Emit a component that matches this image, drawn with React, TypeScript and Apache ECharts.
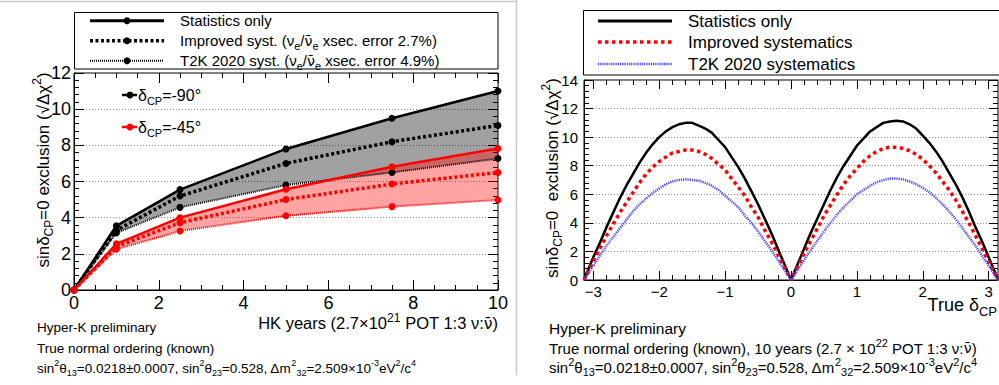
import React, { useEffect, useRef } from 'react';
import * as echarts from 'echarts';

// ---------- Left panel data (HK years) ----------
const hkYears = [0, 1, 2.5, 5, 7.5, 10];
const m90Stat = [0, 3.55, 5.55, 7.8, 9.5, 11.0];
const m90Improved = [0, 3.3, 5.2, 7.0, 8.2, 9.1];
const m90T2K = [0, 3.15, 4.57, 5.8, 6.5, 7.27];
const m45Stat = [0, 2.55, 4.0, 5.57, 6.82, 7.83];
const m45Improved = [0, 2.4, 3.72, 5.0, 5.86, 6.5];
const m45T2K = [0, 2.25, 3.26, 4.11, 4.61, 4.98];

// ---------- Right panel data (true delta CP) ----------
const deltaCP = [-3.1416, -3.1, -3.0, -2.9, -2.8, -2.7, -2.6, -2.5, -2.4, -2.3, -2.2, -2.1, -2.0, -1.9, -1.8, -1.7, -1.6, -1.5, -1.4, -1.3, -1.2, -1.1, -1.0, -0.9, -0.8, -0.7, -0.6, -0.5, -0.4, -0.3, -0.2, -0.1, 0, 0.1, 0.2, 0.3, 0.4, 0.5, 0.6, 0.7, 0.8, 0.9, 1.0, 1.1, 1.2, 1.3, 1.4, 1.5, 1.6, 1.7, 1.8, 1.9, 2.0, 2.1, 2.2, 2.3, 2.4, 2.5, 2.6, 2.7, 2.8, 2.9, 3.0, 3.1, 3.1416];
const statOnly = [0, 0.5, 1.6, 2.6, 3.7, 4.7, 5.7, 6.6, 7.4, 8.2, 8.9, 9.5, 10.0, 10.4, 10.7, 10.9, 11.0, 11.0, 10.8, 10.6, 10.3, 9.8, 9.3, 8.6, 7.9, 7.1, 6.2, 5.3, 4.3, 3.3, 2.2, 1.1, 0, 1.1, 2.2, 3.3, 4.3, 5.3, 6.3, 7.2, 8.0, 8.7, 9.4, 9.9, 10.4, 10.7, 11.0, 11.1, 11.15, 11.1, 10.9, 10.6, 10.1, 9.6, 9.0, 8.3, 7.5, 6.7, 5.8, 4.8, 3.7, 2.7, 1.6, 0.5, 0];
const improvedSyst = [0, 0.4, 1.3, 2.2, 3.1, 3.9, 4.7, 5.4, 6.1, 6.8, 7.4, 7.9, 8.3, 8.6, 8.9, 9.0, 9.1, 9.1, 9.0, 8.8, 8.5, 8.1, 7.7, 7.1, 6.5, 5.9, 5.1, 4.4, 3.5, 2.7, 1.8, 0.9, 0, 0.9, 1.85, 2.75, 3.6, 4.5, 5.25, 6.0, 6.7, 7.3, 7.8, 8.3, 8.7, 9.0, 9.2, 9.3, 9.3, 9.2, 9.05, 8.8, 8.45, 8.0, 7.5, 6.9, 6.3, 5.6, 4.8, 4.0, 3.1, 2.2, 1.3, 0.4, 0];
const t2kSyst = [0, 0.3, 1.0, 1.7, 2.4, 3.0, 3.6, 4.2, 4.8, 5.3, 5.7, 6.1, 6.4, 6.7, 6.9, 7.0, 7.05, 7.0, 6.95, 6.8, 6.6, 6.3, 5.9, 5.5, 5.1, 4.5, 4.0, 3.4, 2.75, 2.1, 1.4, 0.7, 0, 0.7, 1.4, 2.1, 2.75, 3.4, 4.0, 4.6, 5.1, 5.55, 6.0, 6.3, 6.6, 6.85, 7.0, 7.1, 7.1, 7.05, 6.9, 6.7, 6.45, 6.15, 5.75, 5.3, 4.8, 4.25, 3.65, 3.0, 2.4, 1.7, 1.0, 0.3, 0];

const rightMajorTicks = [-3, -2, -1, 0, 1, 2, 3];

const FF = '"Liberation Sans", Arial, Helvetica, sans-serif';
const FB = '"DejaVu Sans", "Liberation Sans", sans-serif';

function rich(fs: number) {
  const s = Math.round(fs * 0.7);
  return {
    n: { fontSize: fs, fontFamily: FF, color: '#000', lineHeight: Math.round(fs * 1.4) },
    nb: { fontSize: fs * 0.95, fontFamily: FB, color: '#000', lineHeight: Math.round(fs * 1.4) },
    sub: { fontSize: s, fontFamily: FF, color: '#000', lineHeight: s, verticalAlign: 'bottom' },
    sup: { fontSize: s, fontFamily: FF, color: '#000', lineHeight: s, verticalAlign: 'top' },
  };
}

function txt(text: string, x: number, y: number, fs: number, align = 'left', rotation = 0) {
  return {
    type: 'text',
    x,
    y,
    rotation,
    silent: true,
    style: {
      text,
      rich: rich(fs),
      fill: '#000',
      font: `${fs}px ${FF}`,
      textAlign: align,
      align,
      textVerticalAlign: 'middle',
      verticalAlign: 'middle',
    },
  };
}

function lineEl(x1: number, y1: number, x2: number, y2: number, stroke: string, lineWidth: number, lineDash?: number[]) {
  return {
    type: 'line',
    silent: true,
    shape: { x1, y1, x2, y2 },
    style: { stroke, lineWidth, lineDash: lineDash || null },
  };
}

function dot(cx: number, cy: number, r: number, fill: string) {
  return { type: 'circle', silent: true, shape: { cx, cy, r }, style: { fill } };
}

function band(upper: number[], lower: number[], color: string) {
  return {
    type: 'custom',
    xAxisIndex: 0,
    yAxisIndex: 0,
    silent: true,
    clip: true,
    z: 1,
    data: [[hkYears[0], upper[0]]],
    renderItem: (params: any, api: any) => {
      const pts: number[][] = [];
      for (let i = 0; i < hkYears.length; i++) pts.push(api.coord([hkYears[i], upper[i]]));
      for (let i = hkYears.length - 1; i >= 0; i--) pts.push(api.coord([hkYears[i], lower[i]]));
      return { type: 'polygon', shape: { points: pts }, style: { fill: color } };
    },
  };
}

function leftLine(name: string, vals: number[], color: string, width: number, type: any) {
  return {
    type: 'line',
    name,
    xAxisIndex: 0,
    yAxisIndex: 0,
    data: hkYears.map((x, i) => [x, vals[i]]),
    symbol: 'circle',
    symbolSize: 7,
    showSymbol: true,
    lineStyle: { color, width, type },
    itemStyle: { color },
    z: 3,
  };
}

function rightLine(name: string, vals: number[], color: string, width: number, type: any) {
  return {
    type: 'line',
    name,
    xAxisIndex: 2,
    yAxisIndex: 2,
    data: deltaCP.map((x, i) => [x, vals[i]]),
    symbol: 'none',
    showSymbol: false,
    lineStyle: { color, width, type },
    z: 3,
  };
}

const tickStyle = { color: '#000', width: 1 };

export default function App() {
  const ref = useRef<HTMLDivElement>(null);
  useEffect(() => {
    document.body.style.margin = '0';
    if (!ref.current) return;
    const chart = echarts.init(ref.current, null, { renderer: 'svg' });

    const minorR: number[] = [];
    for (let i = -15; i <= 15; i++) {
      if (i % 5 !== 0) minorR.push(Math.round(i * 20) / 100);
    }

    const minus = (v: number) => (v < 0 ? '\u2212' + Math.abs(v) : String(v));
    const axLine = { show: true, onZero: false, lineStyle: { color: '#000' } };
    const noLine = { show: false, onZero: false };

    const option: any = {
      animation: false,
      grid: [
        { left: 74, top: 73, width: 424, height: 217, show: true, borderColor: '#000', borderWidth: 1, backgroundColor: 'transparent' },
        { left: 584, top: 80, width: 414, height: 200, show: true, borderColor: '#000', borderWidth: 1, backgroundColor: 'transparent' },
      ],
      xAxis: [
        {
          gridIndex: 0, type: 'value', position: 'bottom', min: 0, max: 10, interval: 2,
          axisLine: axLine,
          axisTick: { show: true, inside: true, length: 10, lineStyle: tickStyle },
          minorTick: { show: true, splitNumber: 4, length: 5, lineStyle: tickStyle },
          axisLabel: { color: '#000', fontSize: 18, fontFamily: FF, margin: 4 },
          splitLine: { show: false },
        },
        {
          gridIndex: 0, type: 'value', position: 'top', min: 0, max: 10, interval: 2,
          axisLine: noLine,
          axisTick: { show: true, inside: true, length: 10, lineStyle: tickStyle },
          minorTick: { show: true, splitNumber: 4, length: 5, lineStyle: tickStyle },
          axisLabel: { show: false },
          splitLine: { show: false },
        },
        {
          gridIndex: 1, type: 'value', position: 'bottom', min: -3.1416, max: 3.1416,
          axisLine: axLine,
          axisTick: { show: true, inside: true, length: 9, customValues: rightMajorTicks, lineStyle: tickStyle },
          axisLabel: { color: '#000', fontSize: 15, fontFamily: FF, margin: 4, customValues: rightMajorTicks, formatter: minus },
          splitLine: { show: false },
        },
        {
          gridIndex: 1, type: 'value', position: 'bottom', min: -3.1416, max: 3.1416,
          axisLine: noLine,
          axisTick: { show: true, inside: true, length: 5, customValues: minorR, lineStyle: tickStyle },
          axisLabel: { show: false },
          splitLine: { show: false },
        },
        {
          gridIndex: 1, type: 'value', position: 'top', min: -3.1416, max: 3.1416,
          axisLine: noLine,
          axisTick: { show: true, inside: true, length: 9, customValues: rightMajorTicks, lineStyle: tickStyle },
          axisLabel: { show: false },
          splitLine: { show: false },
        },
        {
          gridIndex: 1, type: 'value', position: 'top', min: -3.1416, max: 3.1416,
          axisLine: noLine,
          axisTick: { show: true, inside: true, length: 5, customValues: minorR, lineStyle: tickStyle },
          axisLabel: { show: false },
          splitLine: { show: false },
        },
      ],
      yAxis: [
        {
          gridIndex: 0, type: 'value', position: 'left', min: 0, max: 12, interval: 2,
          axisLine: axLine,
          axisTick: { show: true, inside: true, length: 10, lineStyle: tickStyle },
          minorTick: { show: true, splitNumber: 5, length: 5, lineStyle: tickStyle },
          axisLabel: { color: '#000', fontSize: 18, fontFamily: FF, margin: 3 },
          splitLine: { show: true, lineStyle: { color: '#888', type: [1, 2], width: 1 } },
        },
        {
          gridIndex: 0, type: 'value', position: 'right', min: 0, max: 12, interval: 2,
          axisLine: noLine,
          axisTick: { show: true, inside: true, length: 10, lineStyle: tickStyle },
          minorTick: { show: true, splitNumber: 5, length: 5, lineStyle: tickStyle },
          axisLabel: { show: false },
          splitLine: { show: false },
        },
        {
          gridIndex: 1, type: 'value', position: 'left', min: 0, max: 14, interval: 2,
          axisLine: axLine,
          axisTick: { show: true, inside: true, length: 9, lineStyle: tickStyle },
          minorTick: { show: true, splitNumber: 5, length: 5, lineStyle: tickStyle },
          axisLabel: { color: '#000', fontSize: 15, fontFamily: FF, margin: 6 },
          splitLine: { show: true, lineStyle: { color: '#888', type: [1, 2], width: 1 } },
        },
        {
          gridIndex: 1, type: 'value', position: 'right', min: 0, max: 14, interval: 2,
          axisLine: noLine,
          axisTick: { show: true, inside: true, length: 9, lineStyle: tickStyle },
          minorTick: { show: true, splitNumber: 5, length: 5, lineStyle: tickStyle },
          axisLabel: { show: false },
          splitLine: { show: false },
        },
      ],
      series: [
        band(m90Stat, m90T2K, 'rgba(0,0,0,0.37)'),
        leftLine('-90 Statistics only', m90Stat, '#000', 2.5, 'solid'),
        leftLine('-90 Improved syst.', m90Improved, '#000', 3.5, [3, 2.5]),
        leftLine('-90 T2K 2020 syst.', m90T2K, '#000', 2, [1, 1]),
        band(m45Stat, m45T2K, 'rgba(255,0,0,0.36)'),
        leftLine('-45 Statistics only', m45Stat, '#ff0000', 2.5, 'solid'),
        leftLine('-45 Improved syst.', m45Improved, '#ff0000', 3.5, [3, 2.5]),
        leftLine('-45 T2K 2020 syst.', m45T2K, '#ff0000', 2, [1, 1]),
        rightLine('Statistics only', statOnly, '#000', 2.5, 'solid'),
        rightLine('Improved systematics', improvedSyst, '#ff0000', 3.5, [3.5, 3.5]),
        rightLine('T2K 2020 systematics', t2kSyst, '#4646ff', 2.5, [1.2, 1]),
      ],
      graphic: [
        // panel separators
        lineEl(0, 1.5, 516, 1.5, '#c8c8c8', 1.5),
        lineEl(516.5, 0, 516.5, 375, '#c8c8c8', 1.5),
        // left legend box
        { type: 'rect', silent: true, shape: { x: 74.5, y: 12.5, width: 423.5, height: 56.5 }, style: { fill: 'none', stroke: '#000', lineWidth: 1 } },
        lineEl(90, 20.7, 164, 20.7, '#000', 3),
        dot(127, 20.7, 3.5, '#000'),
        txt('{n|Statistics only}', 180, 20.7, 15),
        lineEl(90, 40.7, 164, 40.7, '#000', 3.5, [3, 2.5]),
        dot(127, 40.7, 3.5, '#000'),
        txt('{n|Improved syst. (ν}{sub|e}{n|/}{nb|ν\u0304}{sub|e}{n| xsec. error 2.7%)}', 180, 40.7, 15),
        lineEl(90, 60.7, 164, 60.7, '#000', 2, [1, 1]),
        dot(127, 60.7, 3.5, '#000'),
        txt('{n|T2K 2020 syst. (ν}{sub|e}{n|/}{nb|ν\u0304}{sub|e}{n| xsec. error 4.9%)}', 180, 60.7, 15),
        // inner delta CP keys
        lineEl(122, 95, 137, 95, '#000', 2.5),
        dot(130, 95, 3.5, '#000'),
        txt('{n|δ}{sub|CP}{n|=-90°}', 138, 95, 16),
        lineEl(122, 127, 137, 127, '#ff0000', 2.5),
        dot(130, 127, 3.5, '#ff0000'),
        txt('{n|δ}{sub|CP}{n|=-45°}', 138, 127, 16),
        // left axis titles
        txt('{n|sinδ}{sub|CP}{n|=0 exclusion (√Δχ}{sup|2}{n|)}', 43, 170, 17, 'center', Math.PI / 2),
        txt('{n|HK years (2.7×10}{sup|21}{n| POT 1:3 ν:}{nb|ν\u0304}{n|)}', 498, 323, 16.5, 'right'),
        // left footnotes
        txt('{n|Hyper-K preliminary}', 37, 327, 13.5),
        txt('{n|True normal ordering (known)}', 37, 348, 13.5),
        txt('{n|sin}{sup|2}{n|θ}{sub|13}{n|=0.0218±0.0007, sin}{sup|2}{n|θ}{sub|23}{n|=0.528, Δm}{sup|2}{sub|32}{n|=2.509×10}{sup|-3}{n|eV}{sup|2}{n|/c}{sup|4}', 37, 368, 13.5),
        // right legend box
        { type: 'rect', silent: true, shape: { x: 583.5, y: 10.5, width: 420, height: 64.5 }, style: { fill: 'none', stroke: '#000', lineWidth: 1 } },
        lineEl(598, 21, 672, 21, '#000', 3),
        txt('{n|Statistics only}', 688, 21, 17),
        lineEl(598, 42, 672, 42, '#ff0000', 3.5, [3.5, 3.5]),
        txt('{n|Improved systematics}', 688, 42, 17),
        lineEl(598, 64, 672, 64, '#4646ff', 2.5, [1.2, 1]),
        txt('{n|T2K 2020 systematics}', 688, 64, 17),
        // right axis titles
        txt('{n|sinδ}{sub|CP}{n|=0  exclusion (√Δχ}{sup|2}{n|)}', 552, 178, 17, 'center', Math.PI / 2),
        txt('{n|True δ}{sub|CP}', 997, 305, 18, 'right'),
        // right footnotes
        txt('{n|Hyper-K preliminary}', 549, 328, 15.5),
        txt('{n|True normal ordering (known), 10 years (2.7 × 10}{sup|22}{n| POT 1:3 ν:}{nb|ν\u0304}{n|)}', 549, 348, 15),
        txt('{n|sin}{sup|2}{n|θ}{sub|13}{n|=0.0218±0.0007, sin}{sup|2}{n|θ}{sub|23}{n|=0.528, Δm}{sup|2}{sub|32}{n|=2.509×10}{sup|-3}{n|eV}{sup|2}{n|/c}{sup|4}', 549, 367, 15),
      ],
    };

    chart.setOption(option);
    return () => chart.dispose();
  }, []);

  return <div ref={ref} style={{ width: 999, height: 385, position: 'absolute', left: 0, top: 0, background: '#fff' }} />;
}
